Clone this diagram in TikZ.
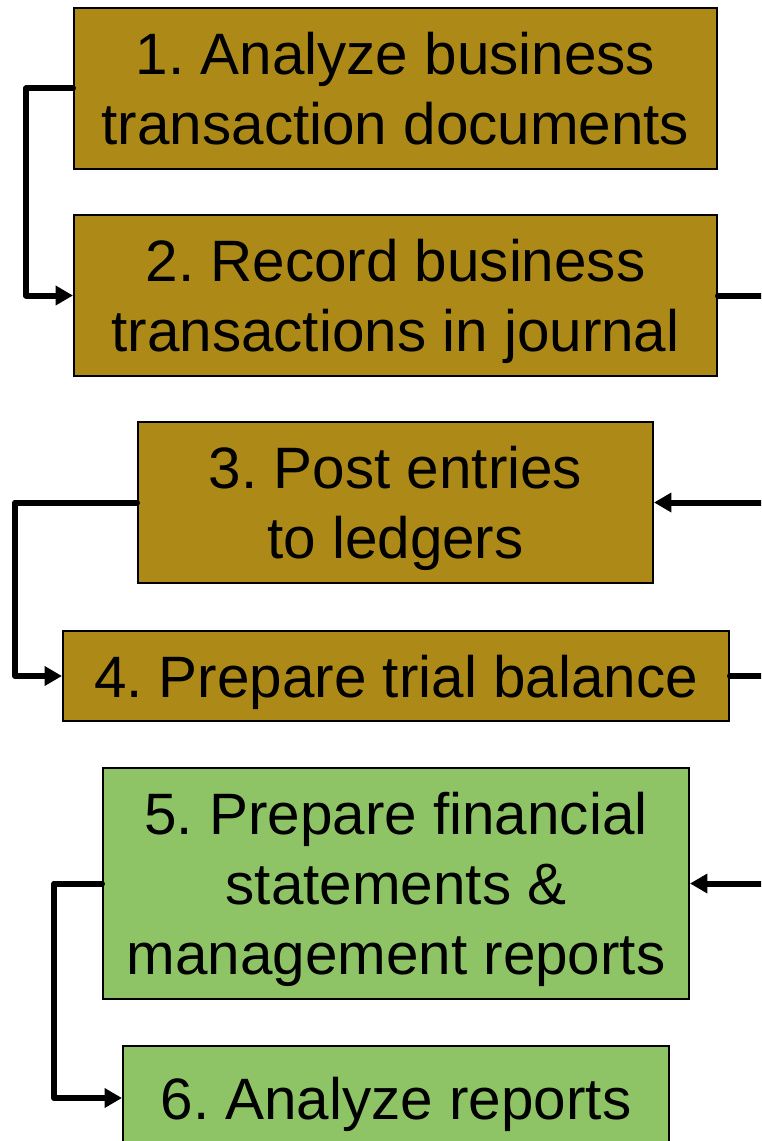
\documentclass[tikz,border=0pt]{standalone}
\usepackage{fontspec}
\setmainfont{Liberation Sans}
\usetikzlibrary{arrows.meta}
\definecolor{gold}{RGB}{173,137,23}
\definecolor{leaf}{RGB}{142,196,101}
\frenchspacing
\tikzset{
  stepbox/.style={draw=black, line width=1.5pt, align=center, inner sep=0pt,
    text depth=0pt, font=\fontsize{43.8}{52.5}\selectfont},
  goldbox/.style={stepbox, fill=gold},
  greenbox/.style={stepbox, fill=leaf},
  conn/.style={line width=4.5pt, line cap=round, line join=round},
  tip/.style={-{Triangle[length=13pt,width=14pt]}}
}
\begin{document}
\begin{tikzpicture}[x=0.75pt,y=-0.75pt]
  \clip (0,0) rectangle (761,1141);
  \fill[white] (0,0) rectangle (761,1141);
  \coordinate (edge) at (775,0);

  \node[goldbox, minimum width=482.25pt, minimum height=120.75pt] (b1) at (395.5,88.5)
    {1. Analyze business\\transaction documents};
  \node[goldbox, minimum width=482.25pt, minimum height=120.75pt] (b2) at (395.5,295.5)
    {2. Record business\\transactions in journal};
  \node[goldbox, minimum width=386.25pt, minimum height=120.75pt] (b3) at (395.5,502.5)
    {3. Post entries\\to ledgers};
  \node[goldbox, minimum width=499.5pt, minimum height=67.5pt] (b4) at (396,676)
    {4. Prepare trial balance};
  \node[greenbox, minimum width=439.5pt, minimum height=173.25pt] (b5) at (396,883.5)
    {5. Prepare financial\\statements \&\\management reports};
  \node[greenbox, minimum width=409.5pt, minimum height=78pt] (b6) at (396,1098)
    {6. Analyze reports};

  % left-hand loops between consecutive steps
  \draw[conn, tip] (b1.west) -- ++(-47,0) |- (b2.west);
  \draw[conn, tip] (b3.west) -- ++(-122,0) |- (b4.west);
  \draw[conn, tip] (b5.west) -- ++(-48,0) |- (b6.west);

  % right-hand lines leaving and entering past the edge
  \draw[conn] (b2.east) -- (b2.east -| edge);
  \draw[conn, tip] (b3.east -| edge) -- (b3.east);
  \draw[conn] (b4.east) -- (b4.east -| edge);
  \draw[conn, tip] (b5.east -| edge) -- (b5.east);
\end{tikzpicture}
\end{document}
